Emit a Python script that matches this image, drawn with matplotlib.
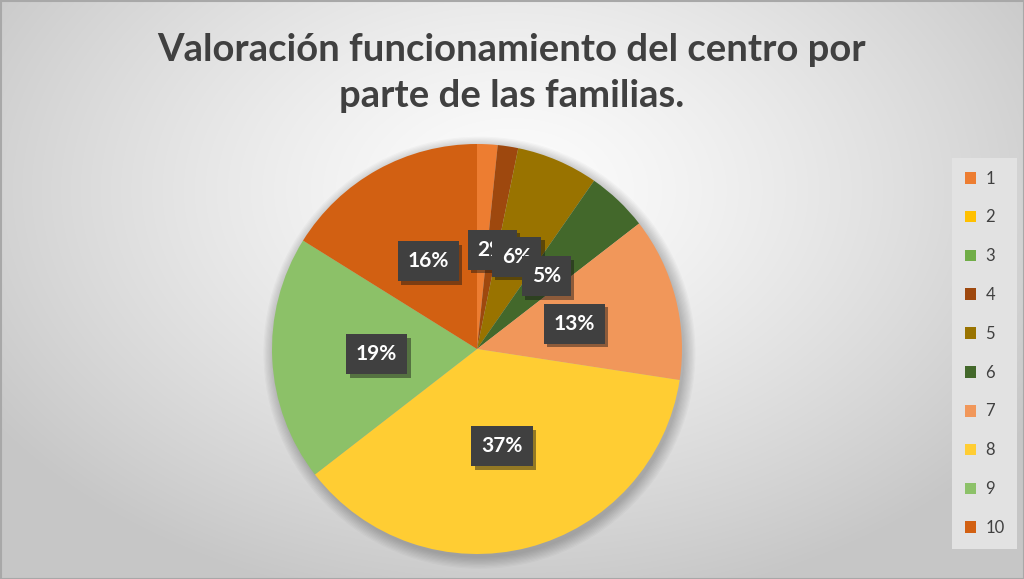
import numpy as np
import matplotlib
matplotlib.use("Agg")
import matplotlib.pyplot as plt
import matplotlib.patheffects as pe
from matplotlib.patches import Circle, Rectangle

categories = ["1", "2", "3", "4", "5", "6", "7", "8", "9", "10"]
counts = [1, 0, 0, 1, 4, 3, 8, 23, 12, 10]
colors = ["#ED7D31", "#FFC000", "#70AD47", "#9E480E", "#997300",
          "#43682B", "#F1975A", "#FFCD33", "#8CC168", "#D26012"]
title = "Valoración funcionamiento del centro por\nparte de las familias."

FONT = ["Lato", "DejaVu Sans"]
W, H = 1024, 579
fig = plt.figure(figsize=(W / 100, H / 100), dpi=100)

# background radial gradient
bg = fig.add_axes([0, 0, 1, 1], zorder=-10)
yy, xx = np.mgrid[0:H, 0:W]
r = np.sqrt(((xx - 512) / 620.0) ** 2 + ((yy - 190) / 420.0) ** 2)
r = np.clip(r, 0, 1)
val = 0.99 - 0.21 * r ** 1.3
img = np.dstack([val, val, val])
bg.imshow(img, extent=[0, W, H, 0], aspect="auto")
bg.add_patch(Rectangle((0.5, 0.5), W - 1, H - 1, fill=False, ec="#a8a8a8", lw=1.5))
bg.set_xlim(0, W)
bg.set_ylim(H, 0)
bg.axis("off")

fig.text(512 / W, 1 - 73 / H, title, ha="center", va="center", fontsize=27.5,
         fontweight="bold", color="#404040", family=FONT, linespacing=1.45)

# pie
cx, cy, R = 477, 349, 205
ax = fig.add_axes([(cx - R) / W, (H - cy - R) / H, 2 * R / W, 2 * R / H])
ax.set_xlim(-1, 1)
ax.set_ylim(-1, 1)
ax.axis("off")
for k in range(10):
    ax.add_patch(Circle((0.012, -0.018), 1.0 + 0.006 * k, color="black",
                        alpha=0.022, lw=0, zorder=0, clip_on=False))
wedges, texts, autotexts = ax.pie(
    counts, colors=colors, startangle=90, counterclock=False, radius=1,
    autopct=lambda p: f"{p:.0f}%" if p > 0 else "", pctdistance=0.49,
    wedgeprops=dict(lw=0), textprops=dict(color="white", fontsize=15,
                                           fontweight="bold", family=FONT))
ax.set_xlim(-1, 1)
ax.set_ylim(-1, 1)
for w in wedges:
    w.set_clip_on(False)
# slices 1 and 4 share the same label spot; the reference shows one box there
autotexts[0].set_text("")
for t in autotexts:
    if t.get_text():
        t.set_bbox(dict(boxstyle="square,pad=0.48", fc="#404040", ec="none"))
        t.get_bbox_patch().set_path_effects(
            [pe.SimplePatchShadow(offset=(2.5, -2.5), alpha=0.45), pe.Normal()])
        t.set_zorder(5)

leg = fig.legend(wedges, categories, loc="upper left",
                 bbox_to_anchor=(952 / W, 1 - 158 / H), frameon=True,
                 labelspacing=1.37, handlelength=0.7,
                 handleheight=0.7, handletextpad=0.55, borderpad=0.75,
                 borderaxespad=0, prop=dict(family=FONT, size=12))
leg.get_frame().set_facecolor("#e2e2e2")
leg.get_frame().set_edgecolor("none")
leg.get_frame().set_alpha(1)
leg.get_frame().set_boxstyle("square,pad=0")
for t in leg.get_texts():
    t.set_color("#404040")

fig.savefig("out.png", dpi=100)
